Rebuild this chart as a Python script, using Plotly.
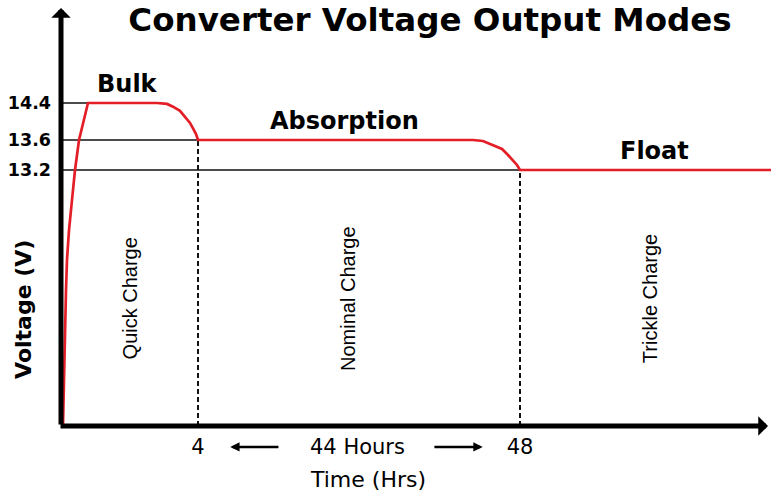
import numpy as np
import plotly.graph_objects as go

# ---- schematic scales (the reference axes are not linear) ----
HOUR_ANCHORS = [0, 4, 48, 80]
HOUR_DISPLAY = [0, 137, 459, 710]
VOLT_ANCHORS = [0, 13.2, 13.6, 14.4]
VOLT_DISPLAY = [0, 256, 286, 323]

# ---- data ----
rise_hours = [0.058, 0.088, 0.102, 0.146, 0.175, 0.234, 0.321, 0.409, 0.526, 0.788]
rise_volts = [0.0, 2.37, 4.95, 7.01, 8.56, 10.1, 11.65, 13.2, 13.6, 14.4]
bulk_hours = [0.788, 2.803, 3.095, 3.270, 3.474, 3.620, 3.766, 3.854, 3.942, 4.0]
bulk_volts = [14.4, 14.4, 14.38, 14.32, 14.23, 14.10, 13.97, 13.85, 13.73, 13.6]
absorption_hours = [4.0, 41.58, 42.94, 44.31, 45.54, 46.36, 47.04, 47.59, 48.0]
absorption_volts = [13.6, 13.6, 13.587, 13.533, 13.48, 13.40, 13.333, 13.267, 13.2]
float_hours = [48.0, 80.0]
float_volts = [13.2, 13.2]

level_volts = [14.4, 13.6, 13.2]
level_end_hours = [0.788, 4, 48]
level_labels = ["14.4", "13.6", "13.2"]

phase_hours = [4, 48]
phase_volts = [13.6, 13.2]
phase_tick_labels = ["4", "48"]

mode_names = ["Bulk", "Absorption", "Float"]
mode_label_hours = [1.95, 24.0, 65.1]
mode_label_volts = [14.4, 13.6, 13.2]

charge_names = ["Quick Charge", "Nominal Charge", "Trickle Charge"]
charge_label_hours = [2.0, 24.5, 64.6]


def hx(h):
    return np.interp(h, HOUR_ANCHORS, HOUR_DISPLAY)


def vy(v):
    return np.interp(v, VOLT_ANCHORS, VOLT_DISPLAY)


RED = "#e41e26"
BLACK = "#111111"
BOLD = dict(family="DejaVu Sans", weight="bold", color="black")

fig = go.Figure()

# horizontal level lines
for v, h in zip(level_volts, level_end_hours):
    fig.add_trace(go.Scatter(x=hx([0, h]), y=vy([v, v]), mode="lines",
                             line=dict(color=BLACK, width=1.5), hoverinfo="skip"))

# dashed phase boundaries
for h, v in zip(phase_hours, phase_volts):
    fig.add_trace(go.Scatter(x=hx([h, h]), y=vy([0, v]), mode="lines",
                             line=dict(color=BLACK, width=2, dash="5px,3px"), hoverinfo="skip"))

# voltage curve
curve_h = rise_hours + bulk_hours[1:] + absorption_hours[1:] + float_hours[1:]
curve_v = rise_volts + bulk_volts[1:] + absorption_volts[1:] + float_volts[1:]
fig.add_trace(go.Scatter(x=hx(curve_h), y=vy(curve_v), mode="lines",
                         line=dict(color=RED, width=2.7), hoverinfo="skip"))

annotations = []
# axis arrows
annotations.append(dict(x=hx(0), y=418, ax=hx(0), ay=0, xref="x", yref="y", axref="x", ayref="y",
                        text="", showarrow=True, arrowhead=1, arrowwidth=5, arrowsize=0.65,
                        arrowcolor="black", standoff=0))
annotations.append(dict(x=707, y=vy(0), ax=hx(0) - 2, ay=vy(0), xref="x", yref="y", axref="x", ayref="y",
                        text="", showarrow=True, arrowhead=1, arrowwidth=5, arrowsize=0.65,
                        arrowcolor="black", standoff=0))

# mode labels
for name, h, v in zip(mode_names, mode_label_hours, mode_label_volts):
    annotations.append(dict(x=hx(h), y=vy(v), xref="x", yref="y", text=name, showarrow=False,
                            xanchor="center", yanchor="middle", yshift=19, font=dict(size=24, **BOLD)))

# charge labels (rotated)
for name, h in zip(charge_names, charge_label_hours):
    annotations.append(dict(x=hx(h), y=0.304, xref="x", yref="paper", text=name, showarrow=False,
                            xanchor="center", yanchor="middle", textangle=-90,
                            font=dict(family="Liberation Sans", size=20, color="black")))

# y axis title
annotations.append(dict(x=-0.052, y=0.278, xref="paper", yref="paper", text="Voltage (V)",
                        xanchor="center", yanchor="middle",
                        showarrow=False, textangle=-90, font=dict(size=22, **BOLD)))

# 44 hours span
annotations.append(dict(x=hx(26) - 2, y=-0.05, xref="x", yref="paper", text="44 Hours", showarrow=False,
                        xanchor="center", yanchor="middle",
                        font=dict(family="DejaVu Sans", size=21, color="black")))
annotations.append(dict(x=hx(8.4), y=-0.05, ax=hx(15.2), ay=0, xref="x", yref="paper", axref="x",
                        text="", showarrow=True, arrowhead=2, arrowwidth=2.5, arrowsize=0.75,
                        arrowcolor="black", standoff=0))
annotations.append(dict(x=hx(42.9), y=-0.05, ax=hx(36.1), ay=0, xref="x", yref="paper", axref="x",
                        text="", showarrow=True, arrowhead=2, arrowwidth=2.5, arrowsize=0.75,
                        arrowcolor="black", standoff=0))
annotations.append(dict(x=hx(26) + 9, y=-0.129, xref="x", yref="paper", text="Time (Hrs)", showarrow=False,
                        xanchor="center", yanchor="middle",
                        font=dict(family="DejaVu Sans", size=22, color="black")))

fig.update_layout(
    width=771, height=501,
    margin=dict(l=61, r=0, t=8, b=75),
    paper_bgcolor="white", plot_bgcolor="white",
    showlegend=False,
    title=dict(text="Converter Voltage Output Modes", x=430 / 771, xanchor="center",
               xref="container", yref="container", y=1 - 20 / 501, yanchor="middle",
               font=dict(size=32.5, **BOLD)),
    xaxis=dict(range=[0, 710], showgrid=False, zeroline=False, showline=False, ticks="",
               tickmode="array", tickvals=list(hx(phase_hours)), ticktext=phase_tick_labels,
               tickfont=dict(family="DejaVu Sans", size=21, color="black"), ticklabelstandoff=6,
               automargin=False, fixedrange=True),
    yaxis=dict(range=[0, 418], showgrid=False, zeroline=False, showline=False, ticks="",
               tickmode="array", tickvals=list(vy(level_volts)), ticktext=level_labels,
               tickfont=dict(size=17.5, **BOLD), ticklabelstandoff=9, automargin=False, fixedrange=True),
    annotations=annotations,
)

fig.write_html("out.html", config={"displayModeBar": False},
               post_script="document.body.style.margin='0';document.body.style.padding='0';")
